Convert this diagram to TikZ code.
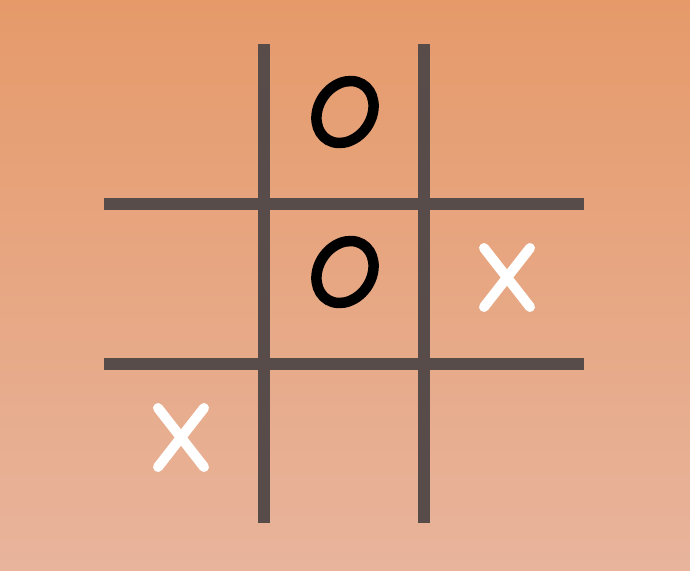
\documentclass[tikz,border=0pt]{standalone}
\definecolor{bgtop}{HTML}{E69A6A}
\definecolor{bgbot}{HTML}{E8B49C}
\definecolor{gridc}{HTML}{574C4A}
\tikzset{
  gridline/.style={draw=gridc, line width=12pt},
  omark/.style={draw=black, line width=10.5pt},
  xmark/.style={draw=white, line width=10pt, line cap=round},
}
\begin{document}
\begin{tikzpicture}[x=1pt,y=-1pt]
\useasboundingbox (0,0) rectangle (690,570);
\shade[top color=bgtop, bottom color=bgbot] (0,0) rectangle (690,570);
% grid
\draw[gridline] (264,44) -- (264,523);
\draw[gridline] (424,44) -- (424,523);
\draw[gridline] (104,204) -- (584,204);
\draw[gridline] (104,364) -- (584,364);
% O marks
\begin{scope}[shift={(345,112)}, xslant=0.17, rotate=-3]
\draw[omark] (0,0) ellipse [x radius=28, y radius=31];
\end{scope}
\begin{scope}[shift={(345,272)}, xslant=0.17, rotate=-3]
\draw[omark] (0,0) ellipse [x radius=28, y radius=31];
\end{scope}
% X marks
\draw[xmark] (484,248) -- (530,307);
\draw[xmark] (530,248) -- (484,307);
\draw[xmark] (158,408) -- (204,467);
\draw[xmark] (204,408) -- (158,467);
\end{tikzpicture}
\end{document}
